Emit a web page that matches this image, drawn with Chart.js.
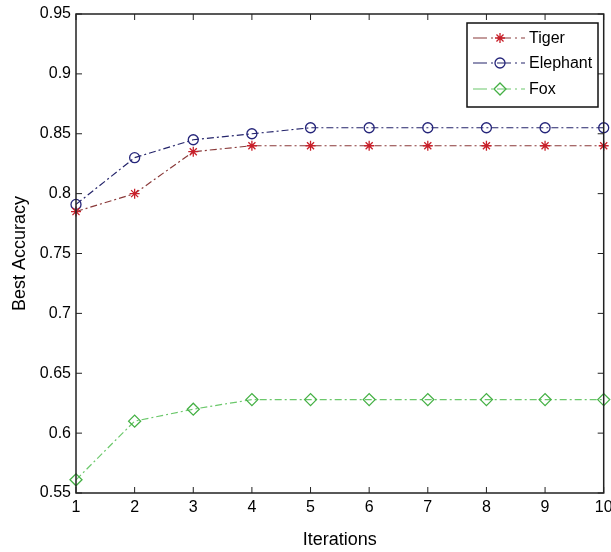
<!DOCTYPE html>
<html><head><meta charset="utf-8">
<script src="https://cdn.jsdelivr.net/npm/chart.js@4.4.1/dist/chart.umd.min.js"></script>
<style>html,body{margin:0;padding:0;background:#fff}#wrap{width:611px;height:552px}</style>
</head><body><div id="wrap"><canvas id="c" width="611" height="552"></canvas></div>
<script>
const iterations = [1,2,3,4,5,6,7,8,9,10];
const tiger    = [0.785,0.800,0.835,0.840,0.840,0.840,0.840,0.840,0.840,0.840];
const elephant = [0.791,0.830,0.845,0.850,0.855,0.855,0.855,0.855,0.855,0.855];
const fox      = [0.561,0.610,0.620,0.628,0.628,0.628,0.628,0.628,0.628,0.628];
const yTicks = [0.55,0.6,0.65,0.7,0.75,0.8,0.85,0.9,0.95];
const seriesNames = ['Tiger','Elephant','Fox'];

const FONT = "'Liberation Sans',Arial,sans-serif";
const dash = [7,3,2,3];
function pts(arr){return iterations.map((x,i)=>({x:x,y:arr[i]}));}

const styles = [
  {line:'#8a3a3a', pt:'#c8202a', style:'star', r:5, fill:'#c8202a'},
  {line:'#25256b', pt:'#25257a', style:'circle', r:5, fill:'rgba(255,255,255,0)'},
  {line:'#6cc86c', pt:'#44b044', style:'rectRot', r:6, fill:'rgba(255,255,255,0)'}
];
const datasets = [tiger, elephant, fox].map((d,i)=>({
  label: seriesNames[i], data: pts(d),
  borderColor: styles[i].line, borderWidth: 1.2, borderDash: dash,
  pointStyle: styles[i].style, pointRadius: styles[i].r,
  pointBorderColor: styles[i].pt, pointBackgroundColor: styles[i].fill,
  pointBorderWidth: 1.3, tension: 0, fill:false, clip:false
}));

const boxPlugin = {
  id:'box',
  afterDraw(chart){
    const ctx = chart.ctx, a = chart.chartArea;
    const xs = chart.scales.x, ys = chart.scales.y;
    ctx.save();
    ctx.strokeStyle = '#222'; ctx.lineWidth = 1.5;
    ctx.strokeRect(a.left, a.top, a.right-a.left, a.bottom-a.top);
    ctx.lineWidth = 1;
    ctx.beginPath();
    iterations.forEach(v=>{
      const p = xs.getPixelForValue(v);
      ctx.moveTo(p, a.bottom); ctx.lineTo(p, a.bottom-6);
      ctx.moveTo(p, a.top); ctx.lineTo(p, a.top+6);
    });
    yTicks.forEach(v=>{
      const p = ys.getPixelForValue(v);
      ctx.moveTo(a.left, p); ctx.lineTo(a.left+6, p);
      ctx.moveTo(a.right, p); ctx.lineTo(a.right-6, p);
    });
    ctx.stroke();
    // legend
    const lx = 467, ly = 23, lw = 131, lh = 84;
    ctx.fillStyle = '#fff';
    ctx.fillRect(lx, ly, lw, lh);
    ctx.strokeStyle = '#111'; ctx.lineWidth = 1.5;
    ctx.strokeRect(lx, ly, lw, lh);
    ctx.font = "16px " + FONT;
    ctx.textBaseline = 'middle';
    const rowsY = [38, 63, 89];
    chart.data.datasets.forEach((ds,i)=>{
      const y = rowsY[i];
      ctx.save();
      ctx.strokeStyle = ds.borderColor; ctx.lineWidth = 1.2;
      ctx.setLineDash([14,4,2,4]);
      ctx.beginPath(); ctx.moveTo(lx+6, y); ctx.lineTo(lx+58, y); ctx.stroke();
      ctx.setLineDash([]);
      ctx.strokeStyle = ds.pointBorderColor; ctx.fillStyle = ds.pointBackgroundColor; ctx.lineWidth = 1.3;
      Chart.helpers.drawPoint(ctx, {pointStyle: ds.pointStyle, radius: ds.pointRadius, borderWidth: 1.3}, lx+33, y);
      ctx.restore();
      ctx.fillStyle = '#000';
      ctx.fillText(ds.label, lx+62, y+1);
    });
    ctx.restore();
  }
};

new Chart(document.getElementById('c'), {
  type:'line',
  data:{datasets},
  options:{
    responsive:false, animation:false,
    layout:{padding:{top:14,right:5,left:0,bottom:0}},
    plugins:{legend:{display:false}, tooltip:{enabled:false}},
    scales:{
      x:{type:'linear', min:1, max:10,
        afterBuildTicks(s){ s.ticks = iterations.map(v=>({value:v})); },
        afterFit(s){ s.height = 59; s.paddingLeft = 0; s.paddingRight = 0; },
        grid:{display:false, drawTicks:false},
        border:{display:false},
        ticks:{color:'#000', font:{family:FONT,size:16}, padding:5, maxRotation:0,
          callback:v=>String(v)},
        title:{display:true, text:'Iterations', color:'#000', font:{family:FONT,size:18}, padding:{top:0,bottom:1}}
      },
      y:{type:'linear', min:0.55, max:0.95,
        afterBuildTicks(s){ s.ticks = yTicks.map(v=>({value:v})); },
        afterFit(s){ s.width = 76; s.paddingTop = 0; s.paddingBottom = 0; },
        grid:{display:false, drawTicks:false},
        border:{display:false},
        ticks:{color:'#000', font:{family:FONT,size:16}, padding:5,
          callback:v=>String(Math.round(v*100)/100)},
        title:{display:true, text:'Best Accuracy', color:'#000', font:{family:FONT,size:18}, padding:{top:9,bottom:0}}
      }
    }
  },
  plugins:[boxPlugin]
});
</script></body></html>
